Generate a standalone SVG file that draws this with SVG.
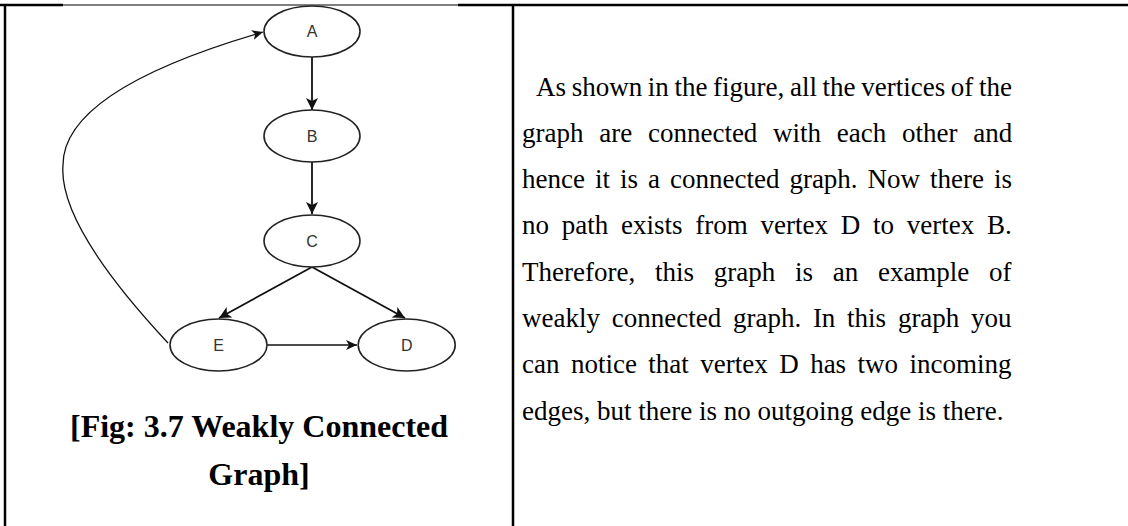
<svg xmlns="http://www.w3.org/2000/svg" width="1128" height="526" viewBox="0 0 1128 526">
<style>
.border{stroke:#000;stroke-width:2.5;fill:none}
.thin{stroke:#000;stroke-width:1.2;fill:none}
.node ellipse{fill:#fff;stroke:#222;stroke-width:1.6}
.node text{font-family:"Liberation Sans",Arial,sans-serif;font-size:16px;fill:#333;text-anchor:middle}
.edge{stroke:#111;stroke-width:1.8;fill:none}
.edge2{stroke:#111;stroke-width:1.3;fill:none}
.cap{font-family:"Liberation Serif","Times New Roman",serif;font-size:32px;font-weight:bold;fill:#000;text-anchor:middle}
.body{font-family:"Liberation Serif","Times New Roman",serif;font-size:27px;fill:#000}
</style>
<defs>
<marker id="ah" markerUnits="userSpaceOnUse" markerWidth="14" markerHeight="14" refX="12" refY="6" orient="auto">
<path d="M0,0 L12,6 L0,12 L3,6 z" fill="#111"/>
</marker>
<marker id="ah2" markerUnits="userSpaceOnUse" markerWidth="14" markerHeight="14" refX="11" refY="5" orient="auto">
<path d="M0,0 L11,5 L0,10 L3,5 z" fill="#111"/>
</marker>
</defs>
<g id="frame">
<line class="border" x1="0" y1="5" x2="63" y2="5"/>
<line class="thin" x1="63" y1="5" x2="458" y2="5"/>
<line class="border" x1="458" y1="5" x2="1128" y2="5"/>
<line class="border" x1="5" y1="4" x2="5" y2="526"/>
<line class="border" x1="513" y1="4" x2="513" y2="526"/>
</g>
<g id="connectors">
<line class="edge" x1="312" y1="57" x2="312" y2="110" marker-end="url(#ah)"/>
<line class="edge" x1="312" y1="162" x2="312" y2="214" marker-end="url(#ah)"/>
<line class="edge" x1="312" y1="267" x2="219" y2="318" marker-end="url(#ah)"/>
<line class="edge" x1="312" y1="267" x2="405" y2="318" marker-end="url(#ah)"/>
<line class="edge2" x1="267" y1="345" x2="357" y2="345" marker-end="url(#ah2)"/>
<path class="edge2" d="M168,343 Q58,225 63,165 Q63,90 263,32" marker-end="url(#ah2)"/>
</g>
<g id="node-A" class="node"><ellipse cx="312" cy="31.5" rx="48" ry="25.5"/><text x="312" y="37">A</text></g>
<g id="node-B" class="node"><ellipse cx="312" cy="136" rx="48" ry="26"/><text x="312" y="141.5">B</text></g>
<g id="node-C" class="node"><ellipse cx="312" cy="241" rx="48" ry="26"/><text x="312" y="246.5">C</text></g>
<g id="node-E" class="node"><ellipse cx="218.5" cy="345" rx="48.5" ry="26"/><text x="218.5" y="350.5">E</text></g>
<g id="node-D" class="node"><ellipse cx="406.7" cy="345" rx="48.5" ry="26"/><text x="406.7" y="350.5">D</text></g>
<g id="caption">
<text class="cap" x="259" y="437">[Fig: 3.7 Weakly Connected</text>
<text class="cap" x="259" y="485">Graph]</text>
</g>
<g id="body-text" class="body">
<text x="536" y="96" word-spacing="-1.1">As shown in the figure, all the vertices of the</text>
<text x="522" y="142" word-spacing="9">graph are connected with each other and</text>
<text x="522" y="188" word-spacing="3.25">hence it is a connected graph. Now there is</text>
<text x="522" y="234" word-spacing="6">no path exists from vertex D to vertex B.</text>
<text x="522" y="281" word-spacing="13">Therefore, this graph is an example of</text>
<text x="522" y="327" word-spacing="5">weakly connected graph. In this graph you</text>
<text x="522" y="373" word-spacing="4.7">can notice that vertex D has two incoming</text>
<text x="522" y="420">edges, but there is no outgoing edge is there.</text>
</g>
</svg>
